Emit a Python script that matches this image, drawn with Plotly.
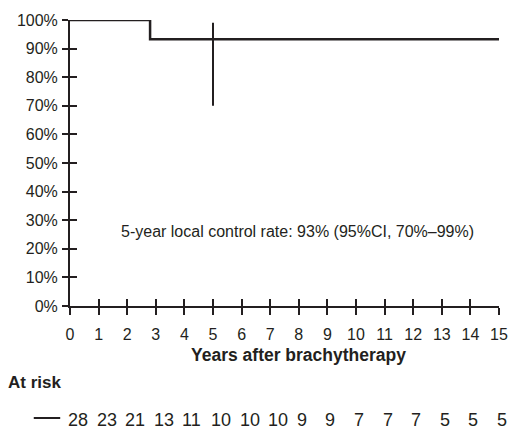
import plotly.graph_objects as go

# Kaplan-Meier step data (years, local control %)
km_years = [0, 2.8, 2.8, 15]
km_rate = [100, 100, 93.3, 93.3]
ci_year = 5
ci_low, ci_high = 70, 99
risk_years = list(range(0, 16))
at_risk = [28, 23, 21, 13, 11, 10, 10, 10, 9, 9, 7, 7, 7, 5, 5, 5]
y_ticks = list(range(0, 101, 10))
annotation_text = "5-year local control rate: 93% (95%CI, 70%–99%)"
x_title = "Years after brachytherapy"

C = "#231f20"
FONT = "Liberation Sans, Arial, sans-serif"
W, H = 518, 432
ML, MR, MT, MB = 70, 10, 20, 126
PW, PH = W - ML - MR, H - MT - MB


def py(pix_y):
    """paper y coordinate from a pixel row"""
    return (H - MB - pix_y) / PH


def px(pix_x):
    return (pix_x - ML) / PW


fig = go.Figure()
fig.add_trace(go.Scatter(x=km_years, y=km_rate, mode="lines",
                         line=dict(color=C, width=2.5),
                         cliponaxis=False, showlegend=False, hoverinfo="skip"))
fig.add_trace(go.Scatter(x=[ci_year, ci_year], y=[ci_low, ci_high], mode="lines",
                         line=dict(color=C, width=2), cliponaxis=False,
                         showlegend=False, hoverinfo="skip"))
fig.add_trace(go.Scatter(x=[0], y=[0], xaxis="x2", yaxis="y2", mode="markers",
                         marker=dict(opacity=0), showlegend=False, hoverinfo="skip"))

fig.update_layout(
    width=W, height=H,
    margin=dict(l=ML, r=MR, t=MT, b=MB),
    paper_bgcolor="white", plot_bgcolor="white",
    font=dict(family=FONT, color=C, size=16),
    xaxis=dict(range=[0, 15], tickvals=risk_years, ticks="outside", ticklen=7,
               tickwidth=1.5, tickcolor=C, showline=True, linecolor=C, linewidth=2,
               showgrid=False, zeroline=False, tickfont=dict(size=16),
               ticklabelstandoff=6),
    yaxis=dict(range=[0, 100], tickvals=y_ticks, ticktext=[f"{v}%" for v in y_ticks],
               ticks="outside", ticklen=6, tickwidth=1.5, tickcolor=C, showline=True,
               linecolor=C, linewidth=2, showgrid=False, zeroline=False,
               tickfont=dict(size=16), ticklabelstandoff=1),
    xaxis2=dict(range=[0, 15], tickvals=risk_years, ticks="inside", ticklen=7,
                tickwidth=1.5, tickcolor=C, showticklabels=False, showgrid=False,
                zeroline=False, overlaying="x", side="bottom", showline=False),
    yaxis2=dict(range=[0, 100], tickvals=y_ticks, ticks="inside", ticklen=7,
                tickwidth=1.5, tickcolor=C, showticklabels=False, showgrid=False,
                zeroline=False, overlaying="y", side="left", showline=False),
)

fig.add_annotation(x=7.95, y=26, xref="x", yref="y", text=annotation_text,
                   showarrow=False, font=dict(size=16, color=C))
fig.add_annotation(x=px(303), y=py(355), xref="paper", yref="paper",
                   text=f"<b>{x_title}</b>", showarrow=False,
                   font=dict(size=17.5, color=C), xanchor="center", yanchor="middle")
fig.add_annotation(x=px(5), y=py(382), xref="paper", yref="paper",
                   text="<b>At risk</b>", showarrow=False,
                   font=dict(size=17, color=C), xanchor="left", yanchor="middle")
for yr, n in zip(risk_years, at_risk):
    fig.add_annotation(x=yr, y=py(420), xref="x", yref="paper", text=str(n),
                       showarrow=False, font=dict(size=18, color=C),
                       xanchor="left", yanchor="middle", xshift=-4)
fig.add_shape(type="line", xref="paper", yref="paper",
              x0=px(33), x1=px(60), y0=py(418), y1=py(418),
              line=dict(color=C, width=2))

fig.write_html("out.html", config={"displayModeBar": False},
               post_script="document.body.style.margin='0';")
